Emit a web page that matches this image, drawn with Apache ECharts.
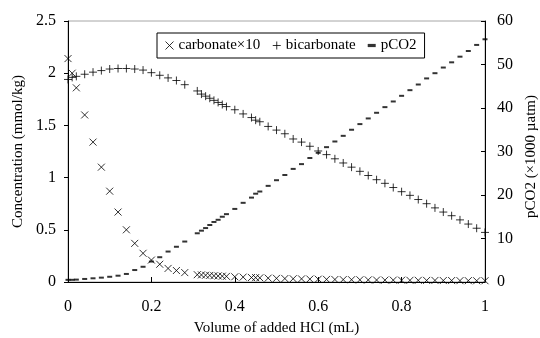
<!DOCTYPE html>
<html>
<head>
<meta charset="utf-8">
<script src="https://cdn.jsdelivr.net/npm/echarts@6/dist/echarts.min.js"></script>
<style>html,body{margin:0;padding:0;background:#fff}#c{width:540px;height:338px}</style>
</head>
<body>
<div id="c"></div>
<script>
var volumeHCl = [0, 0.01, 0.02, 0.04, 0.06, 0.08, 0.10, 0.12, 0.14, 0.16, 0.18, 0.20, 0.22, 0.24, 0.26, 0.28,
  0.31, 0.32, 0.33, 0.34, 0.35, 0.36, 0.37, 0.38, 0.40, 0.42, 0.44, 0.45, 0.46, 0.48,
  0.50, 0.52, 0.54, 0.56, 0.58, 0.60, 0.62, 0.64, 0.66, 0.68, 0.70, 0.72, 0.74, 0.76, 0.78,
  0.80, 0.82, 0.84, 0.86, 0.88, 0.90, 0.92, 0.94, 0.96, 0.98, 1.00];
var carbonateX10 = [2.14, 2.00, 1.86, 1.60, 1.34, 1.10, 0.87, 0.67, 0.50, 0.37, 0.275, 0.21, 0.17, 0.13, 0.11, 0.09,
  0.07, 0.068, 0.065, 0.063, 0.06, 0.058, 0.056, 0.054, 0.05, 0.047, 0.043, 0.042, 0.04, 0.037,
  0.035, 0.033, 0.031, 0.03, 0.028, 0.027, 0.025, 0.024, 0.023, 0.022, 0.021, 0.02, 0.019, 0.018, 0.018,
  0.017, 0.016, 0.016, 0.015, 0.015, 0.014, 0.014, 0.013, 0.013, 0.012, 0.012];
var bicarbonate = [1.94, 1.96, 1.97, 1.99, 2.01, 2.025, 2.04, 2.045, 2.045, 2.04, 2.03, 2.005, 1.98, 1.955, 1.93, 1.89,
  1.83, 1.80, 1.78, 1.76, 1.74, 1.72, 1.70, 1.68, 1.65, 1.61, 1.575, 1.55, 1.535, 1.49,
  1.455, 1.42, 1.37, 1.34, 1.30, 1.255, 1.22, 1.18, 1.14, 1.10, 1.06, 1.02, 0.98, 0.945, 0.905,
  0.865, 0.83, 0.79, 0.75, 0.71, 0.67, 0.635, 0.595, 0.555, 0.515, 0.475];
var pCO2 = [0.5, 0.5, 0.55, 0.7, 0.85, 1.0, 1.2, 1.45, 1.85, 2.75, 3.5, 4.7, 5.7, 7.0, 8.1, 9.3,
  11.2, 11.8, 12.4, 13.1, 13.8, 14.3, 15.0, 15.6, 16.8, 18.2, 19.4, 20.3, 20.8, 22.1,
  23.4, 24.6, 26.0, 27.1, 28.5, 29.7, 31.0, 32.3, 33.6, 35.0, 36.3, 37.6, 38.9, 40.2, 41.5,
  42.8, 44.1, 45.4, 46.8, 48.0, 49.3, 50.5, 51.8, 53.1, 54.5, 55.8];
var seriesNames = ['carbonate×10', 'bicarbonate', 'pCO2'];

function pairs(arr) { return volumeHCl.map(function (x, i) { return [x, arr[i]]; }); }

var FONT = '"Liberation Serif", "Times New Roman", serif';
var crossPath = 'path://M0,0L10,10M10,0L0,10';
var plusPath = 'path://M5,0L5,10M0,5L10,5';

var chart = echarts.init(document.getElementById('c'), null, { renderer: 'canvas' });
chart.setOption({
  animation: false,
  backgroundColor: '#fff',
  textStyle: { fontFamily: FONT, color: '#000' },
  grid: { left: 68, right: 55, top: 21, bottom: 56, outerBoundsMode: 'none', containLabel: false,
    show: true, borderColor: '#a6a6a6', borderWidth: 1, backgroundColor: 'transparent' },
  legend: {
    left: 157, top: 33,
    padding: [5, 8, 5, 8],
    borderColor: '#000', borderWidth: 1,
    itemGap: 12, itemWidth: 8, itemHeight: 8,
    textStyle: { fontFamily: FONT, fontSize: 15, color: '#000' },
    data: [
      { name: seriesNames[0], icon: crossPath, itemStyle: { color: 'transparent', borderColor: '#000', borderWidth: 1 } },
      { name: seriesNames[1], icon: plusPath, itemStyle: { color: 'transparent', borderColor: '#000', borderWidth: 1 } },
      { name: seriesNames[2], icon: 'path://M0,0L5,0L5,2L0,2Z', itemStyle: { color: '#000', borderWidth: 0 } }
    ]
  },
  xAxis: {
    type: 'value', min: 0, max: 1, interval: 0.2,
    name: 'Volume of added HCl (mL)', nameLocation: 'middle', nameGap: 39,
    nameTextStyle: { fontFamily: FONT, fontSize: 15, color: '#000' },
    axisLine: { lineStyle: { color: '#000', width: 1 } },
    axisTick: { inside: true, length: 5, lineStyle: { color: '#000' } },
    axisLabel: { fontFamily: FONT, fontSize: 16, color: '#000', margin: 17 },
    splitLine: { show: false }
  },
  yAxis: [{
    type: 'value', min: 0, max: 2.5, interval: 0.5, position: 'left',
    name: 'Concentration (mmol/kg)', nameLocation: 'middle', nameGap: 38,
    nameTextStyle: { fontFamily: FONT, fontSize: 15, color: '#000' },
    axisLine: { show: true, lineStyle: { color: '#000', width: 1 } },
    axisTick: { show: true, inside: false, length: 4, lineStyle: { color: '#000' } },
    axisLabel: { fontFamily: FONT, fontSize: 16, color: '#000', margin: 12 },
    splitLine: { show: false }
  }, {
    type: 'value', min: 0, max: 60, interval: 10, position: 'right',
    name: 'pCO2 (×1000 µatm)', nameLocation: 'middle', nameGap: 38,
    nameTextStyle: { fontFamily: FONT, fontSize: 15, color: '#000', padding: [0, 10, 0, 0] },
    axisLine: { show: true, lineStyle: { color: '#000', width: 1 } },
    axisTick: { show: true, inside: true, length: 4, lineStyle: { color: '#000' } },
    axisLabel: { fontFamily: FONT, fontSize: 16, color: '#000', margin: 12 },
    splitLine: { show: false }
  }],
  series: [{
    name: seriesNames[0], type: 'scatter', yAxisIndex: 0,
    symbol: crossPath, symbolSize: 7,
    itemStyle: { color: 'transparent', borderColor: '#000', borderWidth: 1 },
    data: pairs(carbonateX10)
  }, {
    name: seriesNames[1], type: 'scatter', yAxisIndex: 0,
    symbol: plusPath, symbolSize: 8,
    itemStyle: { color: 'transparent', borderColor: '#000', borderWidth: 1 },
    data: pairs(bicarbonate)
  }, {
    name: seriesNames[2], type: 'scatter', yAxisIndex: 1,
    symbol: 'rect', symbolSize: [5, 2],
    itemStyle: { color: '#000' },
    data: pairs(pCO2)
  }]
});
</script>
</body>
</html>
